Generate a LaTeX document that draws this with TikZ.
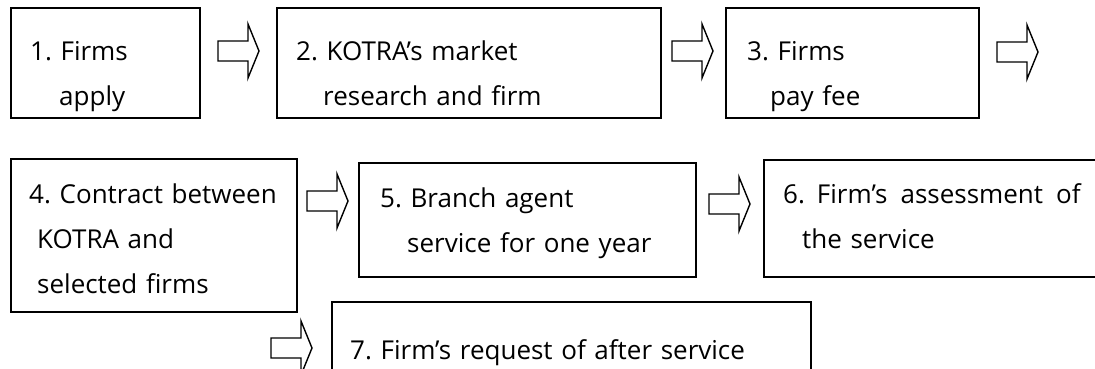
\documentclass[tikz,border=0pt]{standalone}
\usepackage{fontspec}
\setmainfont{Open Sans}
\frenchspacing
\usetikzlibrary{positioning}

\tikzset{
    stepbox/.style={draw, line width=1.8pt, anchor=north west, inner sep=0pt},
    steptext/.style={anchor=base west, inner sep=0pt, text width=420pt, align=left,
        font=\fontsize{26}{45}\selectfont},
    arrowline/.style={draw, line width=1.4pt, line join=miter},
    flowarrow/.pic={
        \draw[arrowline] (0,-10) -- (30,-10) -- (30,-27) -- (41,0) -- (30,27) -- (30,10) -- (0,10) -- cycle;
    },
}

\begin{document}
\begin{tikzpicture}[x=1pt, y=-1pt]

        \useasboundingbox (0,0) rectangle (1095,369);
        \clip (0,0) rectangle (1095,369);

        % boxes
        \node[stepbox, minimum width=189pt, minimum height=110pt] (B1) at (10,7) {};
        \node[stepbox, minimum width=384pt, minimum height=110pt] (B2) at (276,7) {};
        \node[stepbox, minimum width=253pt, minimum height=110pt] (B3) at (725,7) {};
        \node[stepbox, minimum width=286pt, minimum height=153pt] (B4) at (10,158) {};
        \node[stepbox, minimum width=337pt, minimum height=114pt] (B5) at (358,162) {};
        \node[stepbox, minimum width=360pt, minimum height=117pt] (B6) at (763,159) {};
        \node[stepbox, minimum width=479pt, minimum height=100pt] (B7) at (331,301) {};

        % texts
        \node[steptext] (T1) at (30,60) {1. Firms\\\hspace*{29pt}apply};
        \node[steptext] (T2) at (296,61) {2. KOTRA’s market\\\hspace*{27pt}research and firm};
        \node[steptext] (T3) at (747,60) {3. Firms\\\hspace*{23pt}pay fee};
        \node[steptext] (T4) at (29,203) {4. Contract between\\\hspace*{8pt}KOTRA and\\\hspace*{8pt}selected firms};
        \node[steptext] (T5) at (380,207) {5. Branch agent\\\hspace*{27pt}service for one year};
        \node[steptext] (T6) at (783,203) {6.\hspace{12pt}Firm’s\hspace{13pt}assessment\hspace{13pt}of\\\hspace*{19pt}the service};
        \node[steptext] (T7) at (350,359) {7. Firm’s request of after service};

        % arrows
        \pic at (218,51) {flowarrow};
        \pic at (672,51) {flowarrow};
        \pic at (997,52) {flowarrow};
        \pic at (307,201) {flowarrow};
        \pic at (709,204) {flowarrow};
        \pic at (271,348) {flowarrow};

\end{tikzpicture}
\end{document}
